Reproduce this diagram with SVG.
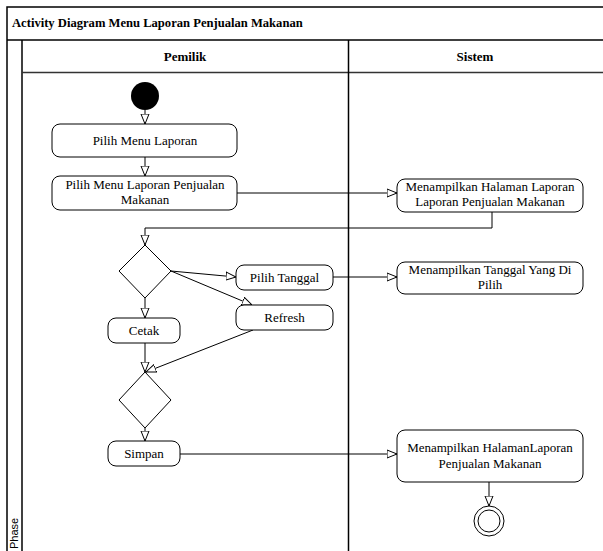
<svg xmlns="http://www.w3.org/2000/svg" width="603" height="551" viewBox="0 0 603 551">
  <style>
    .frame { fill: none; stroke: #000; stroke-width: 1.5; }
    .lane { fill: none; stroke: #000; stroke-width: 1.5; }
    .hdr { fill: none; stroke: #333; stroke-width: 1.5; }
    .act { fill: #fff; stroke: #000; stroke-width: 1; }
    .dec { fill: #fff; stroke: #000; stroke-width: 1; }
    .conn { fill: none; stroke: #000; stroke-width: 1; marker-end: url(#open); }
    .serif { font-family: "Liberation Serif", "DejaVu Serif", "Times New Roman", serif; fill: #000; }
    .lbl { font-size: 13px; text-anchor: middle; }
    .title { font-size: 12.6px; font-weight: bold; }
    .lanehead { font-size: 13px; font-weight: bold; text-anchor: middle; }
    .phase { font-family: "Liberation Sans", Arial, sans-serif; font-size: 11px; fill: #000; }
  </style>
  <defs>
    <marker id="open" viewBox="0 0 10 10" refX="10" refY="5" markerWidth="10" markerHeight="10" markerUnits="userSpaceOnUse" orient="auto">
      <path d="M0,1 L10,5 L0,9 Z" fill="#fff" stroke="#000" stroke-width="1"/>
    </marker>
  </defs>

  <rect width="603" height="551" fill="#fff"/>

  <!-- swimlane frame -->
  <g id="frame">
    <rect class="frame" x="7" y="7" width="600" height="550"/>
    <line class="lane" x1="7" y1="40" x2="603" y2="40"/>
    <line class="lane" x1="22" y1="40" x2="22" y2="551"/>
    <line class="hdr" x1="22" y1="72.5" x2="603" y2="72.5"/>
    <line class="lane" x1="348.5" y1="40" x2="348.5" y2="551"/>
    <text class="serif title" x="12" y="27">Activity Diagram Menu Laporan Penjualan Makanan</text>
    <text class="serif lanehead" x="185" y="61">Pemilik</text>
    <text class="serif lanehead" x="475" y="61">Sistem</text>
    <text class="phase" transform="translate(18,549) rotate(-90)">Phase</text>
  </g>

  <!-- connectors -->
  <g id="connectors">
    <line class="conn" x1="145" y1="110" x2="145" y2="124"/>
    <line class="conn" x1="145" y1="157" x2="145" y2="176"/>
    <line class="conn" x1="237" y1="193" x2="397" y2="193"/>
    <polyline class="conn" points="492,212 492,228 145,228 145,245"/>
    <line class="conn" x1="171" y1="271" x2="236" y2="277"/>
    <line class="conn" x1="171" y1="271" x2="252" y2="305"/>
    <line class="conn" x1="333" y1="277" x2="397" y2="277"/>
    <line class="conn" x1="145" y1="298" x2="145" y2="318"/>
    <line class="conn" x1="145" y1="343" x2="145" y2="372"/>
    <line class="conn" x1="253" y1="330" x2="146" y2="372"/>
    <line class="conn" x1="145" y1="428" x2="145" y2="441"/>
    <line class="conn" x1="180" y1="454" x2="397" y2="454"/>
    <line class="conn" x1="489" y1="482" x2="489" y2="506"/>
  </g>

  <g id="start">
    <circle cx="145" cy="96" r="14" fill="#000"/>
  </g>

  <g id="pilih-menu-laporan">
    <rect class="act" x="52" y="124" width="185" height="33" rx="8"/>
    <text class="serif lbl" x="145" y="145">Pilih Menu Laporan</text>
  </g>

  <g id="pilih-menu-penjualan">
    <rect class="act" x="52" y="176" width="185" height="34" rx="8"/>
    <text class="serif lbl" x="145" y="189">Pilih Menu Laporan Penjualan</text>
    <text class="serif lbl" x="145" y="204">Makanan</text>
  </g>

  <g id="tampil-halaman-laporan">
    <rect class="act" x="397" y="179" width="186" height="33" rx="8"/>
    <text class="serif lbl" x="490" y="191">Menampilkan Halaman Laporan</text>
    <text class="serif lbl" x="490" y="206">Laporan Penjualan Makanan</text>
  </g>

  <g id="keputusan-1">
    <polygon class="dec" points="145,245 171,271 145,298 119,271"/>
  </g>

  <g id="pilih-tanggal">
    <rect class="act" x="236" y="265" width="97" height="25" rx="8"/>
    <text class="serif lbl" x="284.5" y="282">Pilih Tanggal</text>
  </g>

  <g id="refresh">
    <rect class="act" x="236" y="305" width="97" height="25" rx="8"/>
    <text class="serif lbl" x="284.5" y="322">Refresh</text>
  </g>

  <g id="tampil-tanggal">
    <rect class="act" x="397" y="262" width="186" height="32" rx="8"/>
    <text class="serif lbl" x="490" y="274">Menampilkan Tanggal Yang Di</text>
    <text class="serif lbl" x="490" y="289">Pilih</text>
  </g>

  <g id="cetak">
    <rect class="act" x="108" y="318" width="72" height="25" rx="8"/>
    <text class="serif lbl" x="144" y="335">Cetak</text>
  </g>

  <g id="keputusan-2">
    <polygon class="dec" points="145,372 171,400 145,428 119,400"/>
  </g>

  <g id="simpan">
    <rect class="act" x="108" y="441" width="72" height="25" rx="8"/>
    <text class="serif lbl" x="144" y="458">Simpan</text>
  </g>

  <g id="tampil-halaman-penjualan">
    <rect class="act" x="397" y="430" width="186" height="52" rx="8"/>
    <text class="serif lbl" x="490" y="452">Menampilkan HalamanLaporan</text>
    <text class="serif lbl" x="490" y="468">Penjualan Makanan</text>
  </g>

  <g id="final">
    <circle cx="489" cy="521" r="15" fill="#fff" stroke="#000" stroke-width="1"/>
    <circle cx="489" cy="521" r="11" fill="#fff" stroke="#000" stroke-width="1"/>
  </g>
</svg>
